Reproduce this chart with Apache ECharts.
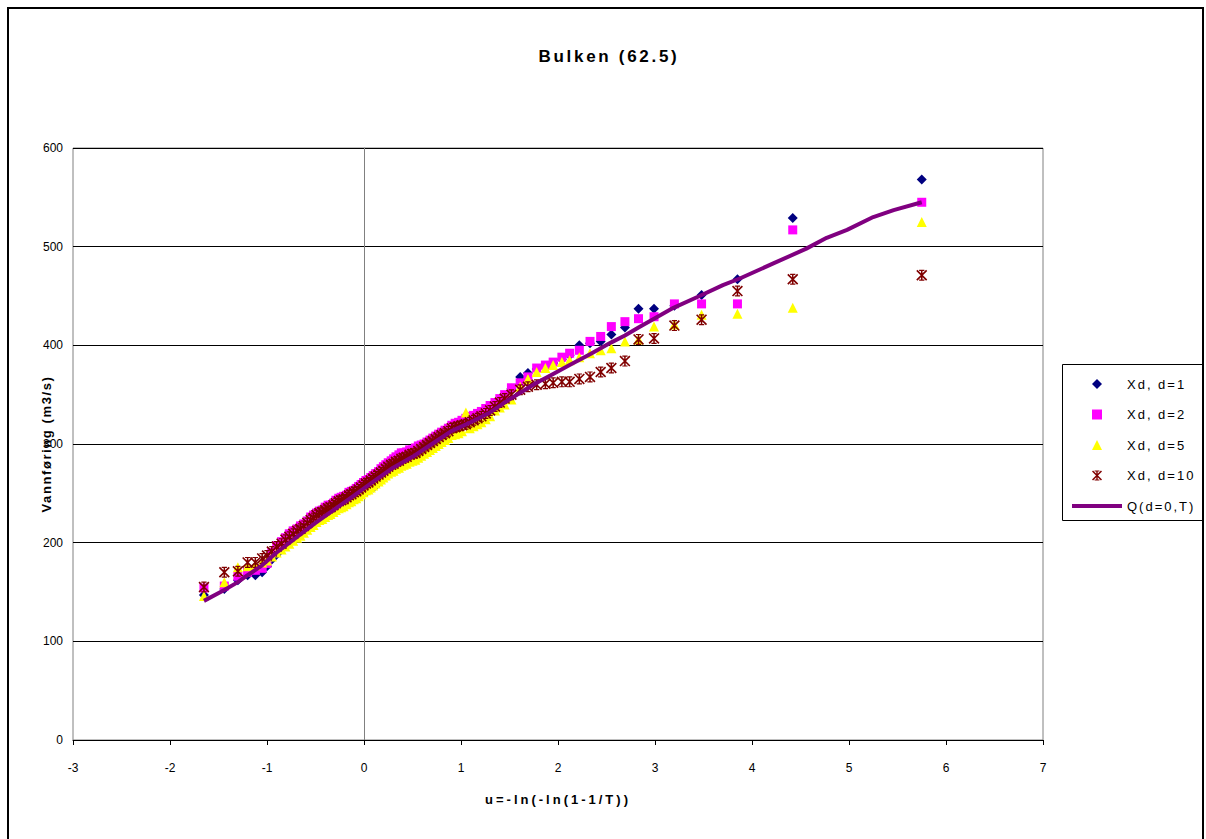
<!DOCTYPE html>
<html><head><meta charset="utf-8">
<script src="https://cdn.jsdelivr.net/npm/echarts@6/dist/echarts.min.js"></script>
<style>html,body{margin:0;padding:0;background:#fff}#chart{width:1206px;height:839px}</style>
</head><body><div id="chart"></div>
<script>
// Gumbel reduced variate (plotting positions) shared by the four Xd series
const uPos = [
-1.65,-1.44,-1.30,-1.20,-1.12,-1.05,-1.00,-0.95,-0.90,-0.85,
-0.81,-0.77,-0.73,-0.69,-0.655,-0.62,-0.585,-0.55,-0.52,-0.49,
-0.46,-0.43,-0.40,-0.37,-0.345,-0.315,-0.29,-0.26,-0.235,-0.21,
-0.18,-0.155,-0.13,-0.105,-0.08,-0.055,-0.03,-0.005,0.02,0.045,
0.07,0.095,0.12,0.15,0.175,0.20,0.225,0.25,0.28,0.305,
0.33,0.36,0.385,0.41,0.44,0.47,0.50,0.53,0.56,0.59,
0.62,0.65,0.68,0.71,0.74,0.77,0.80,0.835,0.87,0.905,
0.94,0.975,1.01,1.05,1.09,1.13,1.17,1.21,1.255,1.30,
1.35,1.40,1.45,1.52,1.61,1.69,1.78,1.87,1.95,2.04,
2.12,2.22,2.33,2.44,2.55,2.69,2.83,2.99,3.20,3.48,
3.85,4.42,5.75];
const xd1 = [
147,153,162,167,167,170,176,183,188,194,
199,202,205,208,210,213,216,219,221,224,
226,227,229,231,232,234,236,238,239,240,
242,243,245,246,247,248,249,250,251,253,
255,256,258,261,263,266,269,272,275,277,
279,280,282,283,284,286,287,288,290,292,
294,296,298,300,302,304,306,308,311,314,
316,318,320,321,324,327,330,332,335,338,
341,345,348,356,368,372,376,378,382,386,
390,400,402,404,411,418,437,437,440,451,
467,529,568];
const xd2 = [
154,156,166,170,172,174,179,190,197,201,
205,209,212,214,217,219,222,226,228,230,
232,233,236,238,238,240,243,245,246,247,
248,251,252,253,255,257,259,261,263,264,
266,268,270,272,275,277,279,281,283,285,
287,289,291,291,292,294,294,296,298,299,
300,302,304,306,308,310,312,314,316,319,
321,322,324,326,328,329,331,333,336,339,
342,346,350,357,362,368,377,380,383,388,
392,395,404,409,419,424,427,429,442,442,
442,517,545];
const xd5 = [
146,160,175,176,177,180,182,186,190,193,
196,199,202,205,207,210,213,216,218,221,
223,224,226,228,229,231,233,235,236,237,
239,241,242,244,245,247,249,251,253,254,
256,258,260,262,264,266,268,270,272,273,
275,276,278,279,280,282,283,284,286,288,
290,292,294,296,298,300,302,304,306,309,
310,311,313,332,316,318,320,322,325,328,
334,337,340,345,358,366,373,377,380,383,
385,388,392,395,397,404,406,419,421,431,
432,438,525];
const xd10 = [
155,170,171,180,180,184,187,191,196,199,
203,206,209,212,214,217,220,223,225,228,
230,231,233,235,236,238,240,242,243,244,
246,248,249,251,252,254,256,258,260,261,
263,265,267,269,271,273,275,277,279,280,
282,283,285,286,287,289,290,291,293,295,
297,299,301,303,305,307,309,311,313,316,
317,318,319,320,322,324,326,328,331,334,
338,342,346,350,355,358,360,361,362,363,
363,366,368,373,377,384,406,407,420,426,
455,467,471];
// Q(d=0,T) curve
const qU = [-1.65,-1.44,-1.30,-1.20,-1.05,-0.90,-0.70,-0.50,-0.30,-0.10,0.10,0.30,0.50,0.70,0.90,1.10,1.30,1.45,1.61,1.78,1.95,2.12,2.33,2.55,2.69,2.83,2.99,3.19,3.46,3.70,3.88,4.22,4.56,4.77,4.98,5.25,5.46,5.75];
const qVal = [141,152,160,167,177,190,205,220,234,248,262,276,287,300,313,322,332,342,352,362,371,380,391,403,410,418,427,438,450,461,468,483,498,509,517,530,537,545];

const seriesNames = ['Xd, d=1','Xd, d=2','Xd, d=5','Xd, d=10','Q(d=0,T)'];
const TITLE = 'Bulken (62.5)';
const X_NAME = 'u=-ln(-ln(1-1/T))';
const Y_NAME = 'Vannføring (m3/s)';

const FONT = '"Liberation Sans", Arial, sans-serif';
const STAR = 'path://M4.3,0 L5.7,0 L5.7,10 L4.3,10 Z M0,1.05 L1.05,0 L10,8.95 L8.95,10 Z M8.95,0 L10,1.05 L1.05,10 L0,8.95 Z M2.6,0 L7.4,0 L7.4,1.1 L2.6,1.1 Z M2.6,8.9 L7.4,8.9 L7.4,10 L2.6,10 Z';
const pair = (xs, ys) => xs.map((x, i) => [x, ys[i]]);

const chart = echarts.init(document.getElementById('chart'), null, {renderer: 'svg'});
const option = {
  animation: false,
  backgroundColor: '#fff',
  textStyle: {fontFamily: FONT},
  grid: {left: 73, right: 163, top: 148, bottom: 99, show: true, borderColor: '#808080', borderWidth: 1, backgroundColor: '#fff', containLabel: false, outerBoundsMode: 'none'},
  xAxis: {
    type: 'value', min: -3, max: 7, interval: 1,
    name: X_NAME, nameLocation: 'middle', nameGap: 53,
    nameTextStyle: {fontSize: 13, fontWeight: 'bold', fontFamily: FONT, color: '#000'},
    axisLine: {show: true, lineStyle: {color: '#000', width: 1}},
    axisTick: {show: true, length: 5, lineStyle: {color: '#000'}},
    axisLabel: {fontSize: 12, fontFamily: FONT, color: '#000', margin: 22},
    splitLine: {show: false}
  },
  yAxis: {
    type: 'value', min: 0, max: 600, interval: 100,
    axisLine: {show: true, onZero: true, lineStyle: {color: '#808080', width: 1}},
    axisTick: {show: true, length: 5, lineStyle: {color: '#000'}},
    axisLabel: {fontSize: 12, fontFamily: FONT, color: '#000', margin: 10},
    splitLine: {show: true, lineStyle: {color: '#000', width: 1}}
  },
  legend: {
    orient: 'vertical', left: 1072, top: 377, padding: 0,
    itemWidth: 50, itemHeight: 10, itemGap: 16.5, symbolKeepAspect: true,
    textStyle: {fontSize: 13, fontFamily: FONT, color: '#000', lineHeight: 14},
    data: [
      {name: seriesNames[0], icon: 'path://M5,0 L10,5 L5,10 L0,5 Z', itemStyle: {color: '#000080', borderWidth: 0}},
      {name: seriesNames[1], icon: 'path://M0,0 L10,0 L10,10 L0,10 Z', itemStyle: {color: '#FF00FF', borderWidth: 0}},
      {name: seriesNames[2], icon: 'path://M5,0 L10,10 L0,10 Z', itemStyle: {color: '#FFFF00', borderWidth: 0}},
      {name: seriesNames[3], icon: STAR, itemStyle: {color: '#800000', borderWidth: 0}},
      {name: seriesNames[4], icon: 'path://M0,0 L50,0 L50,4 L0,4 Z', itemStyle: {color: '#800080', borderWidth: 0}}
    ]
  },
  graphic: [
    {type: 'rect', silent: true, shape: {x: 8, y: 8, width: 1195, height: 840}, style: {fill: 'transparent', stroke: '#000', lineWidth: 2}},
    {type: 'rect', silent: true, shape: {x: 1062.5, y: 364.5, width: 141, height: 156}, style: {fill: 'transparent', stroke: '#000', lineWidth: 1}},
    {type: 'text', silent: true, x: 609, y: 56, style: {text: TITLE, fill: '#000', fontSize: 17, fontWeight: 'bold', fontFamily: FONT, align: 'center', verticalAlign: 'middle'}},
    {type: 'text', silent: true, x: 46, y: 444, rotation: Math.PI / 2, style: {text: Y_NAME, fill: '#000', fontSize: 13, fontWeight: 'bold', fontFamily: FONT, align: 'center', verticalAlign: 'middle'}}
  ],
  series: [
    {name: seriesNames[4], type: 'line', data: pair(qU, qVal), symbol: 'none', showSymbol: false, lineStyle: {color: '#800080', width: 4}, itemStyle: {color: '#800080'}},
    {name: seriesNames[0], type: 'scatter', data: pair(uPos, xd1), symbol: 'diamond', symbolSize: 10, itemStyle: {color: '#000080', opacity: 1}},
    {name: seriesNames[1], type: 'scatter', data: pair(uPos, xd2), symbol: 'rect', symbolSize: 9, itemStyle: {color: '#FF00FF', opacity: 1}},
    {name: seriesNames[2], type: 'scatter', data: pair(uPos, xd5), symbol: 'triangle', symbolSize: 10, itemStyle: {color: '#FFFF00', opacity: 1}},
    {name: seriesNames[3], type: 'scatter', data: pair(uPos, xd10), symbol: STAR, symbolSize: 11, itemStyle: {color: '#800000', opacity: 1}}
  ]
};
chart.setOption(option);

const SPACING = {};
SPACING[TITLE] = 2.7; SPACING[X_NAME] = 3; SPACING[Y_NAME] = 1.6;
seriesNames.forEach(n => SPACING[n] = 2);
function applySpacing() {
  document.querySelectorAll('#chart svg text').forEach(t => {
    const s = t.textContent;
    if (SPACING[s] !== undefined) t.setAttribute('letter-spacing', SPACING[s] + 'px');
  });
}
applySpacing();
chart.on('finished', applySpacing);
setTimeout(applySpacing, 0);
</script></body></html>
